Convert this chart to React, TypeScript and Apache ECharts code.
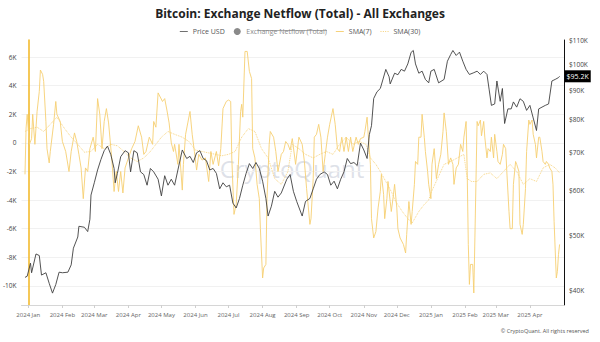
import React, { useEffect, useRef } from 'react';
import * as echarts from 'echarts';

const START = Date.UTC(2024, 0, 1);
const DAY = 86400000;
const MONTHS = ['Jan', 'Feb', 'Mar', 'Apr', 'May', 'Jun', 'Jul', 'Aug', 'Sep', 'Oct', 'Nov', 'Dec'];

// Month tick labels (year, month index)
const monthTicks: [number, number][] = [
  [2024, 0], [2024, 1], [2024, 2], [2024, 3], [2024, 4], [2024, 5], [2024, 6], [2024, 7],
  [2024, 8], [2024, 9], [2024, 10], [2024, 11], [2025, 0], [2025, 1], [2025, 2], [2025, 3],
];
const leftTicksK = [6, 4, 2, 0, -2, -4, -6, -8, -10];
const rightTicksK = [40, 50, 60, 70, 80, 90, 100, 110];

// Price USD (thousands), days since 2024-01-01
const priceDay = [-3, -1, 2, 3, 7, 10, 12, 16, 19, 22, 25, 28, 31, 36, 39, 41, 45, 46, 51, 54, 56, 57, 60, 63, 66, 69, 72, 75, 78, 79, 81, 84, 88, 91, 93, 96, 99, 102, 105, 108, 111, 114, 118, 121, 124, 127, 130, 133, 136, 140, 144, 147, 150, 153, 156, 159, 162, 165, 168, 171, 174, 177, 180, 183, 186, 189, 192, 195, 198, 201, 204, 207, 210, 213, 216, 218, 221, 224, 227, 230, 235, 238, 241, 244, 249, 252, 256, 259, 262, 265, 269, 272, 275, 278, 281, 284, 287, 290, 293, 296, 299, 302, 305, 308, 310, 312, 314, 317, 320, 322, 325, 328, 329, 333, 336, 339, 342, 345, 348, 350, 352, 355, 358, 361, 364, 366, 369, 373, 378, 381, 384, 386, 389, 392, 395, 398, 401, 405, 408, 411, 414, 417, 419, 421, 424, 426, 429, 431, 433, 436, 439, 441, 444, 447, 450, 453, 456, 459, 462, 464, 467, 470, 473, 476, 479, 482, 483];
const priceUSD = [42.1, 42.3, 44.6, 42.9, 46.3, 46.0, 42.5, 42.9, 41.1, 39.5, 40.9, 43.0, 42.9, 43.0, 44.3, 47.4, 49.6, 51.8, 51.6, 50.7, 53.3, 58.8, 61.8, 65.1, 67.9, 70.4, 71.7, 69.3, 65.5, 61.8, 64.2, 68.7, 70.4, 69.8, 64.6, 70.4, 69.8, 64.6, 63.9, 61.2, 65.5, 64.6, 62.7, 58.6, 63.6, 61.2, 62.7, 61.2, 65.1, 70.6, 68.2, 68.8, 67.1, 69.8, 70.4, 68.2, 67.6, 65.1, 65.5, 64.2, 60.3, 61.8, 60.8, 61.2, 56.9, 55.8, 58.0, 61.2, 64.2, 66.8, 65.5, 67.1, 65.5, 62.2, 58.0, 54.0, 56.2, 59.7, 58.3, 59.3, 62.7, 63.9, 59.7, 57.3, 54.0, 57.3, 58.0, 60.3, 62.7, 63.9, 64.6, 63.9, 61.2, 62.2, 60.3, 62.7, 64.6, 68.2, 66.8, 67.1, 66.3, 72.6, 70.6, 68.2, 75.1, 77.9, 87.0, 89.4, 90.6, 93.4, 97.9, 95.0, 92.3, 96.4, 95.8, 97.9, 97.2, 100.1, 104.9, 105.7, 100.1, 96.4, 97.2, 94.0, 92.7, 97.2, 97.9, 92.7, 94.0, 101.2, 104.0, 105.7, 103.6, 105.0, 101.2, 97.9, 95.9, 96.6, 97.2, 95.9, 97.2, 95.9, 90.1, 84.6, 85.1, 93.4, 86.0, 90.6, 78.6, 83.4, 83.4, 85.8, 84.0, 86.9, 86.0, 82.9, 84.6, 80.4, 76.4, 83.4, 84.0, 84.6, 85.1, 93.4, 94.0, 94.7, 95.2];

// SMA(7) of exchange netflow (thousand BTC)
const sma7Day = [-3, -2, -1, 1, 3, 4, 6, 8, 10, 11, 13, 14, 16, 17, 19, 20, 23, 25, 26, 29, 31, 34, 37, 39, 42, 44, 46, 48, 50, 52, 54, 56, 59, 61, 63, 65, 67, 69, 71, 73, 76, 78, 80, 82, 84, 86, 88, 91, 94, 97, 100, 103, 105, 107, 110, 113, 114, 116, 118, 122, 124, 126, 128, 130, 132, 133, 136, 137, 140, 141, 143, 145, 147, 149, 151, 153, 155, 158, 161, 164, 166, 168, 171, 173, 175, 177, 180, 182, 184, 185, 187, 189, 191, 193, 194, 195, 197, 199, 201, 203, 204, 206, 208, 210, 211, 213, 214, 216, 217, 219, 220, 223, 225, 227, 230, 232, 234, 236, 238, 240, 243, 246, 249, 251, 253, 256, 257, 259, 260, 262, 264, 266, 268, 270, 272, 274, 277, 279, 281, 283, 285, 287, 289, 291, 293, 295, 298, 300, 302, 305, 306, 308, 309, 311, 312, 314, 316, 318, 320, 321, 323, 324, 326, 327, 329, 330, 332, 333, 335, 336, 338, 341, 343, 344, 346, 348, 349, 351, 352, 354, 355, 357, 358, 360, 361, 363, 364, 366, 367, 369, 371, 373, 375, 377, 378, 380, 382, 384, 386, 387, 389, 391, 393, 395, 396, 398, 399, 400, 401, 402, 404, 405, 406, 408, 409, 411, 412, 414, 415, 417, 418, 420, 421, 423, 424, 426, 427, 429, 431, 432, 434, 435, 437, 438, 440, 441, 443, 444, 446, 447, 449, 450, 452, 453, 455, 456, 458, 459, 461, 462, 464, 465, 467, 468, 470, 471, 473, 474, 476, 477, 478, 480, 481, 482, 483];
const sma7K = [-2.2, 1.04, 2.0, -0.1, 0.3, 2.0, -0.1, 2.2, 3.6, 5.1, 4.8, 4.3, 1.5, -0.4, -1.4, -0.6, 1.3, 2.9, 2.0, 1.5, 0.1, -0.6, -2.0, -0.6, 0.7, 0.1, -0.8, -1.75, -3.9, -1.75, -2.0, -0.4, 0.4, -0.6, 3.1, 2.0, -0.4, 1.5, 2.4, 1.4, -1.2, -3.4, -2.0, -3.4, -2.0, -3.5, -1.75, -1.05, -0.4, 0.1, 1.2, 0.4, -0.8, -0.6, 0.4, -0.1, 1.5, 1.1, 3.5, 2.9, 3.1, 2.3, 1.4, 0.0, -0.6, -0.1, -1.5, -0.1, -3.3, -1.5, 0.6, 1.4, 2.2, 0.6, -0.6, -1.9, -0.8, -1.2, -1.05, -2.7, -0.6, -1.5, -0.6, -1.6, -0.4, 2.4, 2.9, 3.0, 2.9, -1.05, -5.0, -4.3, -1.5, 2.2, 2.7, 1.8, 6.4, 6.4, 5.0, 4.5, -0.4, -1.05, -2.9, -3.9, -6.0, -9.45, -8.75, -8.5, -3.9, -0.1, 0.8, 0.4, -0.6, -2.0, -0.8, -0.6, 0.1, -0.1, -0.5, 0.3, -1.5, 0.4, -0.1, -1.3, -3.2, -5.7, -5.3, -2.5, 0.4, 0.6, 1.3, 0.4, -2.0, -0.8, 0.4, 1.3, 2.4, 1.3, -0.4, -0.6, 0.4, -0.6, 0.4, -0.6, 0.4, -0.6, 0.4, -0.1, 0.3, 0.4, 0.8, 1.8, 0.6, -1.5, -5.3, -6.65, -6.2, -4.55, -3.4, -2.2, -3.6, -5.3, -3.9, -2.7, -4.1, -4.8, -3.6, -2.9, -4.55, -6.0, -6.65, -7.1, -7.7, -6.4, -4.1, -5.7, -4.8, -2.9, -1.3, -1.5, 0.4, 0.4, 2.0, 0.4, -0.6, -2.0, -2.9, -3.9, -1.5, -0.4, -2.5, -1.5, -0.8, 0.8, 2.1, 0.8, -1.5, -1.05, -1.5, -2.9, -1.75, -1.5, -0.1, -0.6, 0.4, 1.5, -2.0, -7.1, -9.9, -8.5, -8.5, -10.5, -6.65, 1.5, 1.2, 1.6, 0.5, 1.5, 0.4, -1.05, -0.4, -0.6, 0.4, -1.05, 0.6, -0.6, -1.3, -1.5, -0.8, -0.1, -0.4, -2.0, -4.8, -6.0, -6.0, -2.9, -1.3, -1.5, -2.0, -5.7, -6.4, -5.7, -3.2, -0.6, 1.6, 1.3, 1.6, 0.6, -0.1, -1.05, 0.4, 0.4, -0.6, -1.3, -1.5, -1.3, -1.5, -1.75, -2.0, -2.9, -5.5, -9.45, -9.0, -7.8, -7.1];

// SMA(30) of exchange netflow (thousand BTC)
const sma30Day = [-3, 2, 8, 14, 20, 26, 33, 39, 45, 51, 57, 63, 69, 75, 81, 87, 93, 99, 105, 111, 115, 121, 127, 133, 140, 146, 152, 158, 164, 170, 176, 182, 188, 194, 200, 206, 212, 218, 224, 230, 236, 240, 246, 252, 259, 265, 271, 277, 283, 289, 295, 301, 307, 311, 316, 320, 325, 330, 334, 340, 345, 349, 355, 360, 364, 366, 369, 372, 378, 384, 390, 396, 399, 403, 408, 414, 420, 426, 432, 438, 444, 450, 456, 462, 468, 474, 479, 483];
const sma30K = [0.8, 1.0, 1.1, 0.8, 1.3, 1.8, 1.0, 0.4, -0.1, -0.65, -0.6, -0.1, -0.4, -0.1, -0.2, -0.6, -1.05, -1.3, -1.05, -0.6, -0.2, 0.4, 0.8, 0.6, 0.4, 0.1, -0.5, -0.6, -0.7, -0.8, -0.9, -0.8, -0.6, 0.4, 1.0, 0.8, -0.4, -1.05, -2.5, -2.9, -2.0, -0.1, -0.4, -0.8, -1.05, -0.8, -0.6, -0.8, -0.1, 0.4, -0.1, 0.1, -0.1, -1.05, -1.5, -2.0, -2.7, -3.4, -4.1, -4.8, -5.3, -5.6, -4.8, -4.3, -4.0, -3.5, -3.0, -2.5, -1.5, -1.3, -1.05, -0.8, -2.5, -2.7, -2.7, -2.2, -2.1, -2.5, -2.0, -1.5, -2.0, -2.9, -2.5, -2.7, -1.75, -1.5, -1.75, -2.1];

const FONT = 'Open Sans';
const YELLOW = '#f6cf72';
const LINE_ICON = 'path://M0,0L12,0L12,1.4L0,1.4Z';
const DOT_ICON = 'path://M0,0h1.4v1.4h-1.4z M3.5,0h1.4v1.4h-1.4z M7,0h1.4v1.4h-1.4z M10.5,0h1.4v1.4h-1.4z';

export default function App() {
  const ref = useRef<HTMLDivElement>(null);

  useEffect(() => {
    if (!ref.current) return;
    const chart = echarts.init(ref.current, undefined, { renderer: 'svg' });

    // x axis is measured in days since 2024-01-01
    const monthValues = monthTicks.map(([y, m]) => Math.round((Date.UTC(y, m, 1) - START) / DAY));
    const leftTicks = leftTicksK.map((k) => k * 1000);
    const rightTicks = rightTicksK.map((k) => k * 1000);
    const lastPrice = priceUSD[priceUSD.length - 1];

    const option: any = {
      animation: false,
      textStyle: { fontFamily: FONT },
      title: {
        text: 'Bitcoin: Exchange Netflow (Total) - All Exchanges',
        left: 'center',
        top: 2,
        textStyle: { fontSize: 12, fontWeight: 'bold', color: '#222', fontFamily: FONT },
      },
      legend: {
        top: 23,
        left: 'center',
        itemWidth: 8,
        itemHeight: 7,
        itemGap: 9,
        textStyle: { fontSize: 7, color: '#555', fontFamily: FONT },
        inactiveColor: '#8a8a8a',
        selected: { 'Exchange Netflow (Total)': false },
        data: [
          { name: 'Price USD', icon: LINE_ICON, itemStyle: { color: '#666' } },
          { name: 'Exchange Netflow (Total)', icon: 'circle' },
          { name: 'SMA(7)', icon: LINE_ICON, itemStyle: { color: YELLOW } },
          { name: 'SMA(30)', icon: DOT_ICON, itemStyle: { color: YELLOW } },
        ],
      },
      grid: { left: 20, right: 36, top: 40, bottom: 37, containLabel: false },
      xAxis: {
        type: 'value',
        min: -6.17,
        max: 487,
        axisLine: { show: true, onZero: false, lineStyle: { color: '#d6d6d6' } },
        axisTick: { show: true, length: 3, lineStyle: { color: '#cfcfcf' }, customValues: monthValues },
        axisLabel: {
          customValues: monthValues,
          fontSize: 6,
          color: '#666',
          margin: 7,
          formatter: (v: number) => {
            const d = new Date(START + v * DAY);
            return `${d.getUTCFullYear()} ${MONTHS[d.getUTCMonth()]}`;
          },
        },
        splitLine: { show: false },
      },
      yAxis: [
        {
          type: 'value',
          position: 'left',
          min: -11340,
          max: 7200,
          axisLine: { show: true, lineStyle: { color: '#f2b620', width: 1.5 } },
          axisTick: { show: false, customValues: leftTicks },
          axisLabel: {
            customValues: leftTicks,
            fontSize: 6.5,
            color: '#444',
            margin: 5,
            formatter: (v: number) => (v === 0 ? '0' : `${v / 1000}K`),
          },
          splitLine: { show: true, lineStyle: { color: '#f1f1f1', width: 1 } },
        },
        {
          type: 'log',
          logBase: 10,
          position: 'right',
          min: 37640,
          max: 110300,
          axisLine: { show: true, lineStyle: { color: '#111', width: 1 } },
          axisTick: { show: false, customValues: rightTicks },
          axisLabel: {
            customValues: rightTicks,
            fontSize: 6.5,
            color: '#444',
            margin: 5,
            formatter: (v: number) => `$${Math.round(v / 1000)}K`,
          },
          splitLine: { show: false },
        },
      ],
      graphic: [
        {
          type: 'text',
          x: 292,
          y: 168,
          z: 0,
          style: {
            text: 'CryptoQuant',
            align: 'center',
            verticalAlign: 'middle',
            fontSize: 24,
            fontFamily: FONT,
            fill: 'rgba(190,195,210,0.5)',
          },
        },
        {
          type: 'text',
          x: 589,
          y: 331,
          style: {
            text: '© CryptoQuant. All rights reserved',
            align: 'right',
            verticalAlign: 'middle',
            fontSize: 5.5,
            fontFamily: FONT,
            fill: '#555',
          },
        },
        {
          type: 'line',
          z: 10,
          shape: { x1: 257, y1: 30.5, x2: 327, y2: 30.5 },
          style: { stroke: '#8a8a8a', lineWidth: 0.7 },
        },
      ],
      series: [
        {
          name: 'Price USD',
          type: 'line',
          yAxisIndex: 1,
          symbol: 'none',
          data: priceDay.map((d, i) => [d, priceUSD[i] * 1000]),
          lineStyle: { color: '#404040', width: 0.9 },
          itemStyle: { color: '#404040' },
          z: 4,
          endLabel: {
            show: true,
            formatter: () => `$${lastPrice.toFixed(1)}K`,
            color: '#fff',
            backgroundColor: '#000',
            padding: [3, 2, 2, 2],
            fontSize: 7,
            fontFamily: FONT,
            distance: 5,
          },
        },
        {
          name: 'Exchange Netflow (Total)',
          type: 'line',
          yAxisIndex: 0,
          symbol: 'none',
          data: [],
          itemStyle: { color: '#666' },
        },
        {
          name: 'SMA(7)',
          type: 'line',
          yAxisIndex: 0,
          symbol: 'none',
          data: sma7Day.map((d, i) => [d, sma7K[i] * 1000]),
          lineStyle: { color: YELLOW, width: 0.9 },
          itemStyle: { color: YELLOW },
          z: 3,
        },
        {
          name: 'SMA(30)',
          type: 'line',
          yAxisIndex: 0,
          symbol: 'none',
          data: sma30Day.map((d, i) => [d, sma30K[i] * 1000]),
          lineStyle: { color: YELLOW, width: 0.9, type: 'dotted' },
          itemStyle: { color: YELLOW },
          z: 3,
        },
      ],
    };

    chart.setOption(option);
    return () => chart.dispose();
  }, []);

  return (
    <div
      ref={ref}
      style={{ position: 'fixed', left: 0, top: 0, width: 600, height: 342, background: '#fff' }}
    />
  );
}
